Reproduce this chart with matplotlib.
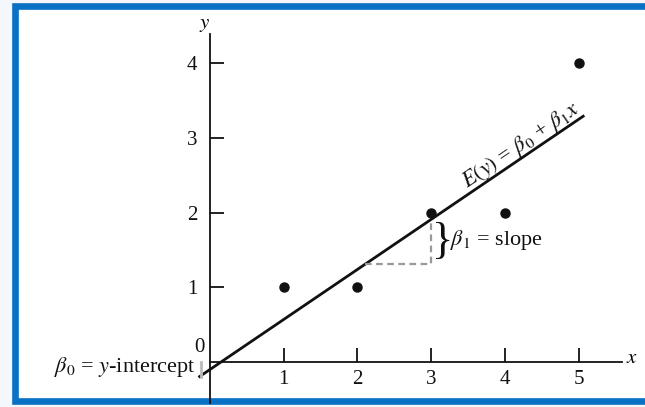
import math
import matplotlib.pyplot as plt
from matplotlib.patches import Rectangle

# observed points
x_pts = [1, 2, 3, 4, 5]
y_pts = [1, 1, 2, 2, 4]

# fitted line E(y) = b0 + b1 x
b0 = -0.1
b1 = 0.67
line_x = [-0.14, 5.06]

x_ticks = [1, 2, 3, 4, 5]
y_ticks = [1, 2, 3, 4]

plt.rcParams['font.family'] = ['Liberation Serif', 'DejaVu Serif']
plt.rcParams['mathtext.fontset'] = 'stix'

fig = plt.figure(figsize=(6.45, 4.07), dpi=100, facecolor='#f4f8fc')
# blue frame around the figure (right edge off the picture)
fig.patches.append(Rectangle((15 / 645, 6 / 407), 700 / 645, 395 / 407,
                             transform=fig.transFigure, facecolor='white',
                             edgecolor='#0a72c4', linewidth=4.8, zorder=-5))

ax = fig.add_axes([0, 0, 1, 1])
ax.set_zorder(2)
ax.set_facecolor('none')
ax.set_xlim(-2.847, 5.898)
ax.set_ylim(-0.602, 4.846)

for s in ['top', 'right']:
    ax.spines[s].set_visible(False)
ax.spines['left'].set_position(('data', 0))
ax.spines['bottom'].set_position(('data', 0))
ax.spines['left'].set_bounds(-0.55, 4.39)
ax.spines['bottom'].set_bounds(0, 5.59)
for s in ['left', 'bottom']:
    ax.spines[s].set_linewidth(1.3)
    ax.spines[s].set_color('#111111')

ax.set_xticks(x_ticks)
ax.set_yticks(y_ticks)
ax.tick_params(direction='in', length=10, width=1.3, colors='#111111',
               labelsize=15)
ax.tick_params(axis='y', pad=9)
ax.tick_params(axis='x', pad=6)

ax.text(-0.14, 0.19, '0', fontsize=15, ha='center', va='center', color='#111111')
ax.text(-0.07, 4.52, '$y$', fontsize=15, ha='center', va='center')
ax.text(5.72, 0.05, '$x$', fontsize=15, ha='center', va='center')

# data points
ax.plot(x_pts, y_pts, 'o', color='#111111', markersize=6.5, zorder=3)

# fitted line
ly = [b0 + b1 * v for v in line_x]
ax.plot(line_x, ly, color='#111111', linewidth=2.0, zorder=2)

# slope triangle
xa, xb = 2.1, 3.0
ya, yb = b0 + b1 * xa, b0 + b1 * xb
ax.plot([xa, xb, xb], [ya, ya, yb], '--', color='#999999', linewidth=1.6,
        dashes=(3, 2))
ax.text(xb + 0.01, (ya + yb) / 2, '}', fontsize=32, ha='left', va='center',
        color='#111111')
ax.text(xb + 0.25, (ya + yb) / 2 + 0.03, r'$\beta_1$ = slope', fontsize=16,
        ha='left', va='center', color='#111111')

# equation label along the line
p1 = ax.transData.transform((line_x[0], ly[0]))
p2 = ax.transData.transform((line_x[1], ly[1]))
ang = math.degrees(math.atan2(p2[1] - p1[1], p2[0] - p1[0]))
ax.text(4.22, b0 + b1 * 4.22 + 0.17, r'$E(y)$ = $\beta_0$ + $\beta_1 x$',
        fontsize=16, rotation=ang, rotation_mode='anchor', ha='center',
        va='center', color='#111111')

# intercept label
ax.plot([-0.12, -0.12], [0, b0 - 0.1], color='#bbbbbb', linewidth=2)
ax.text(-0.19, b0 + 0.03, r'$\beta_0$ = $y$-intercept', fontsize=16,
        ha='right', va='center', color='#111111')

fig.savefig('out.png', dpi=100, facecolor=fig.get_facecolor())
